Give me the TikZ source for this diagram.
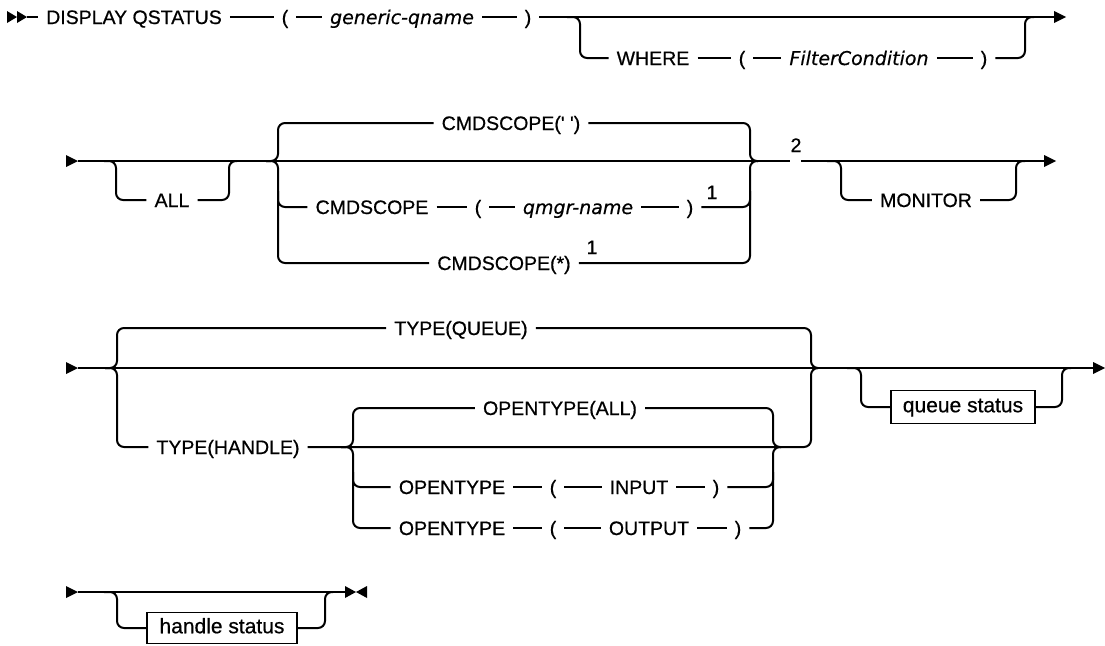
\documentclass[tikz,border=0pt]{standalone}
\usepackage{fontspec}
\setmainfont{Liberation Sans}[FakeBold=0.6]
\newfontfamily\varfont{DejaVu Sans}[ItalicFont={DejaVu Sans Oblique}, FakeBold=0.4]

\begin{document}
\begin{tikzpicture}[
  x=1pt, y=-1pt,
  rail/.style={line width=2pt, rounded corners=7pt},
  tok/.style={font=\fontsize{19.5}{23}\selectfont, inner xsep=8pt, inner ysep=0pt,
              text height=14pt, text depth=0pt},
  var/.style={tok, font=\varfont\fontsize{19}{22}\selectfont\itshape},
  note/.style={tok, inner xsep=0pt},
  boxed/.style={tok, draw, line width=1.8pt, inner xsep=0pt, text height=15pt,
                text depth=4.5pt, minimum height=33pt, font=\fontsize{21}{24}\selectfont},
  startmark/.pic={\fill (0,-6) -- (10,0) -- (0,6) -- cycle;
                  \fill (10,-6) -- (20,0) -- (10,6) -- cycle;},
  rowmark/.pic={\fill (0,-6) -- (12,0) -- (0,6) -- cycle;},
  endmark/.pic={\fill (0,-6) -- (11,0) -- (0,6) -- cycle;
                \fill (22,-6) -- (11,0) -- (22,6) -- cycle;}
]
  \fill[white] (0,0) rectangle (1105,645);

  % first line
  \coordinate (b1) at (7,17);
  \coordinate (b1t) at (27,17);
  \coordinate (w1) at (567,17);
  \coordinate (w2) at (1034,17);
  \coordinate (e1) at (1054,17);
  \pic at (b1) {startmark};
  \node[tok] (dispq) at (134,17) {DISPLAY QSTATUS};
  \node[tok] (lp1) at (285,17) {(};
  \node[var] (gqn) at (402,17) {generic-qname};
  \node[tok] (rp1) at (528,17) {)};
  \node[tok] (where) at (653,58) {WHERE};
  \node[tok] (lp2) at (742,58) {(};
  \node[var] (fcond) at (859,58) {FilterCondition};
  \node[tok] (rp2) at (984,58) {)};

  \draw[rail] (b1t) -- (dispq.west) (dispq.east) -- (lp1.west)
    (lp1.east) -- (gqn.west) (gqn.east) -- (rp1.west) (rp1.east) -- (e1);
  \draw[rail] (w1) -- ++(13,0) |- (where.west);
  \draw[rail] (w2) -- ++(-9,0) |- (rp2.east);
  \draw[rail] (where.east) -- (lp2.west) (lp2.east) -- (fcond.west) (fcond.east) -- (rp2.west);
  \pic at (e1) {rowmark};

  % second line
  \coordinate (b2) at (66,161);
  \coordinate (b2t) at (78,161);
  \coordinate (g2a) at (790,161);
  \coordinate (g2b) at (801,161);
  \coordinate (e2) at (1044,161);
  \pic at (b2) {rowmark};
  \draw[rail] (b2t) -- (g2a) (g2b) -- (e2);
  \pic at (e2) {rowmark};

  \node[tok] (all) at (172,200) {ALL};
  \coordinate (a1) at (104,161);
  \coordinate (a2) at (237,161);
  \draw[rail] (a1) -- ++(12,0) |- (all.west);
  \draw[rail] (a2) -- ++(-8,0) |- (all.east);

  \node[tok] (cs1) at (511,123) {CMDSCOPE(\textquotesingle\ \textquotesingle)};
  \node[tok] (cs2) at (372,207) {CMDSCOPE};
  \node[tok] (lp3) at (478,207) {(};
  \node[var] (qmgr) at (578,207) {qmgr-name};
  \node[tok] (rp3) at (690,207) {)};
  \node[note] (n1a) at (712,192) {1};
  \node[tok] (cs3) at (504,263) {CMDSCOPE(*)};
  \node[note] (n1b) at (592,247) {1};
  \node[note] (n2) at (796,145) {2};
  \coordinate (c1) at (266,161);
  \coordinate (c2) at (758,161);
  \draw[rail] (c1) -- ++(12,0) |- (cs1.west);
  \draw[rail] (c1) -- ++(12,0) |- (cs3.west);
  \draw[rail] (c1) ++(12,30) |- (cs2.west);
  \draw[rail] (c2) -- ++(-8,0) |- (cs1.east);
  \draw[rail] (c2) -- ++(-8,0) |- (cs3.east);
  \draw[rail] (c2) ++(-8,30) |- (rp3.east);
  \draw[rail] (cs2.east) -- (lp3.west) (lp3.east) -- (qmgr.west) (qmgr.east) -- (rp3.west);

  \node[tok] (mon) at (926,200) {MONITOR};
  \coordinate (m1) at (827,161);
  \coordinate (m2) at (1025,161);
  \draw[rail] (m1) -- ++(14,0) |- (mon.west);
  \draw[rail] (m2) -- ++(-9,0) |- (mon.east);

  % third line
  \coordinate (b3) at (66,368);
  \coordinate (b3t) at (78,368);
  \coordinate (e3) at (1093,368);
  \pic at (b3) {rowmark};
  \draw[rail] (b3t) -- (e3);
  \pic at (e3) {rowmark};

  \node[tok] (tq) at (461,328) {TYPE(QUEUE)};
  \node[tok] (th) at (228,447) {TYPE(HANDLE)};
  \coordinate (t1) at (105,368);
  \coordinate (t2) at (817,368);
  \draw[rail] (t1) -- ++(12,0) |- (tq.west);
  \draw[rail] (t1) -- ++(12,0) |- (th.west);
  \draw[rail] (t2) -- ++(-6,0) |- (tq.east);
  \draw[rail] (t2) -- ++(-6,0) |- (th.east);

  \node[tok] (oall) at (560,408) {OPENTYPE(ALL)};
  \node[tok] (ot1) at (452,487) {OPENTYPE};
  \node[tok] (lp4) at (553,487) {(};
  \node[tok] (inp) at (639,487) {INPUT};
  \node[tok] (rp4) at (716,487) {)};
  \node[tok] (ot2) at (452,528) {OPENTYPE};
  \node[tok] (lp5) at (553,528) {(};
  \node[tok] (outp) at (649,528) {OUTPUT};
  \node[tok] (rp5) at (738,528) {)};
  \coordinate (o1) at (341,447);
  \coordinate (o2) at (781,447);
  \draw[rail] (o1) -- ++(12,0) |- (oall.west);
  \draw[rail] (o1) -- ++(12,0) |- (ot2.west);
  \draw[rail] (o1) ++(12,25) |- (ot1.west);
  \draw[rail] (o2) -- ++(-8,0) |- (oall.east);
  \draw[rail] (o2) -- ++(-8,0) |- (rp5.east);
  \draw[rail] (o2) ++(-8,25) |- (rp4.east);
  \draw[rail] (ot1.east) -- (lp4.west) (lp4.east) -- (inp.west) (inp.east) -- (rp4.west);
  \draw[rail] (ot2.east) -- (lp5.west) (lp5.east) -- (outp.west) (outp.east) -- (rp5.west);

  \node[boxed, minimum width=144pt] (qs) at (963,407) {queue status};
  \coordinate (q1) at (847,368);
  \coordinate (q2) at (1071,368);
  \draw[rail] (q1) -- ++(14,0) |- (qs.west);
  \draw[rail] (q2) -- ++(-9,0) |- (qs.east);

  % fourth line
  \coordinate (b4) at (66,592);
  \coordinate (b4t) at (78,592);
  \coordinate (e4) at (345,592);
  \pic at (b4) {rowmark};
  \draw[rail] (b4t) -- (e4);
  \pic at (e4) {endmark};

  \node[boxed, minimum width=150pt, minimum height=31pt] (hs) at (222,628) {handle status};
  \coordinate (h1) at (104,592);
  \coordinate (h2) at (333,592);
  \draw[rail] (h1) -- ++(13,0) |- (hs.west);
  \draw[rail] (h2) -- ++(-8,0) |- (hs.east);
\end{tikzpicture}
\end{document}
